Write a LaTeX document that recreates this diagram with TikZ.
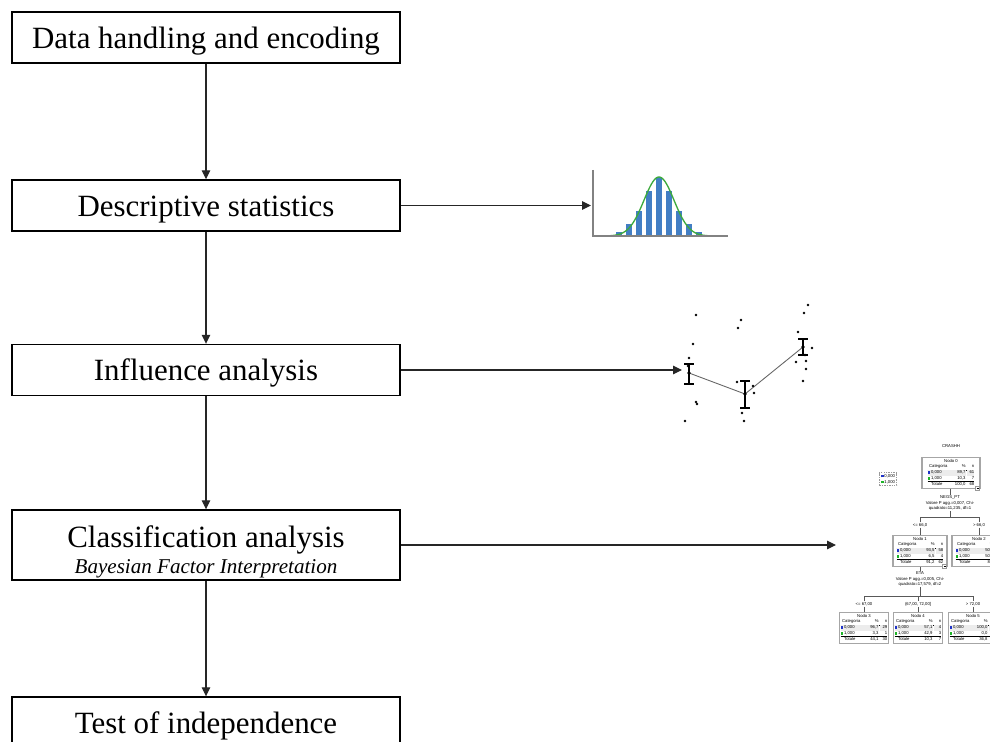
\PassOptionsToPackage{table}{xcolor}
\documentclass[tikz,border=0pt]{standalone}
\usepackage{fontspec}
\setmainfont{Liberation Serif}
\setsansfont{Liberation Sans}
\usepackage{array}
\usetikzlibrary{arrows.meta}

\definecolor{barblue}{RGB}{66,126,196}
\definecolor{curvegreen}{RGB}{60,170,60}
\definecolor{axisgray}{RGB}{130,130,130}
\definecolor{catblue}{RGB}{30,50,200}
\definecolor{catgreen}{RGB}{30,180,40}

% tiny sans font used inside the decision tree
\newcommand\treefont{\sffamily\fontsize{2.4}{3.2}\selectfont\hyphenpenalty=10000\exhyphenpenalty=10000}
\newcommand\catA{\textcolor{catblue}{\rule{1.4pt}{1.4pt}}\hspace{0.5pt}}
\newcommand\catB{\textcolor{catgreen}{\rule{1.4pt}{1.4pt}}\hspace{0.5pt}}
% one tree node: title, %/n of category 0, %/n of category 1, %/n of total
\newcommand\treetable[7]{%
  \setlength\tabcolsep{0pt}\setlength\arrayrulewidth{0.2pt}%
  \begin{tabular}{@{}p{12pt}>{\raggedleft}p{9.5pt}@{\hspace{1pt}}>{\raggedleft\arraybackslash}p{4pt}@{}}
  \multicolumn{3}{@{}c@{}}{#1}\\
  \mbox{\hspace{0.8pt}Categoria} & \% & n\\ \hline
  \rowcolor{gray!15}\mbox{\catA 0,000} & #2 & #3\\
  \mbox{\catB 1,000} & #4 & #5\\ \hline
  \mbox{\hspace{2pt}Totale} & #6 & #7
  \end{tabular}}

\begin{document}
\begin{tikzpicture}[x=0.02cm, y=-0.02cm,
  flowbox/.style={draw, line width=0.8pt, minimum width=7.76cm, minimum height=1.02cm,
    inner sep=0pt, text height=14.5pt, text depth=2.5pt, font=\fontsize{17.6}{21}\selectfont},
  flowarrow/.style={draw=black!85, line width=0.6pt, -{Triangle[length=0.18cm, width=0.17cm]}},
  axisline/.style={draw=axisgray, line width=0.85pt},
  meanline/.style={draw=black!60, line width=0.5pt},
  errbar/.style={draw=black, line width=0.7pt},
  treebox/.style={draw=gray!70, line width=0.6pt, fill=white, inner sep=0.5pt, font=\treefont},
  treetext/.style={inner sep=0.3pt, font=\treefont, align=center},
  treeline/.style={draw=black!65, line width=0.3pt},
  legendbox/.style={draw=gray!80, dashed, dash pattern=on 0.8pt off 0.6pt, line width=0.4pt,
    inner sep=1pt, font=\treefont, align=left},
  collapse/.style={draw=gray!80, line width=0.25pt, fill=white, inner sep=0pt, minimum size=0.08cm}]

\useasboundingbox (0,0) rectangle (990,742);
\fill[white] (0,0) rectangle (990,742);
\clip (0,0) rectangle (990,742);

% ---------------- workflow ----------------
\node[flowbox] (data) at (206,37.5) {Data handling and encoding};
\node[flowbox] (desc) at (206,205.5) {Descriptive statistics};
\node[flowbox] (infl) at (206,370) {Influence analysis};
\node[flowbox, minimum height=1.4cm, text height=, text depth=] (clas) at (206,545) {};
\node[align=center, inner sep=0pt, font=\fontsize{17.6}{21}\selectfont] (clastxt) at (206,552)
  {Classification analysis\\[-6pt]{\itshape\fontsize{12}{14}\selectfont Bayesian Factor Interpretation}};
\node[flowbox] (indep) at (206,722.5) {Test of independence};

\draw[flowarrow] (data) -- (desc);
\draw[flowarrow] (desc) -- (infl);
\draw[flowarrow] (infl) -- (clas);
\draw[flowarrow] (clas) -- (indep);

\coordinate (histin) at (591,205.5);
\coordinate (plotin) at (682,370);
\coordinate (treein) at (836,545);
\draw[flowarrow] (desc) -- (histin);
\draw[flowarrow] (infl) -- (plotin);
\draw[flowarrow] (clas) -- (treein);

% ---------------- histogram with normal curve ----------------
\foreach \dx/\h in {-40/4,-30/12,-20/25,-10/45,0/59,10/45,20/25,30/12,40/4}
  \fill[barblue] (659+\dx-3,236) rectangle (659+\dx+3,236-\h);
\draw[curvegreen, line width=0.75pt] plot[domain=600:718, samples=90, smooth]
  (\x,{236-59*exp(-((\x-659)^2)/450)});
\draw[axisline] (593,170) -- (593,236) -- (728,236);

% ---------------- means with error bars ----------------
\coordinate (m1) at (689,373);
\coordinate (m2) at (745,394);
\coordinate (m3) at (803,347);
\draw[meanline] (m1) -- (m2) -- (m3);
\foreach \x/\ya/\yb in {689/364/384, 745/381/408, 803/339/355} {
  \draw[errbar] (\x,\ya) -- (\x,\yb);
  \draw[errbar] (\x-5,\ya) -- (\x+5,\ya);
  \draw[errbar] (\x-5,\yb) -- (\x+5,\yb);
}
\foreach \p in {m1,m2,m3} \fill (\p) circle (1.8);
\foreach \x/\y in {696/315,693/344,689/358,688/366,696/402,697/404,685/421,
                   741/320,738/328,737/382,753/386,754/393,742/413,744/421,
                   808/305,804/313,798/332,812/348,805/355,806/361,796/362,806/369,803/381}
  \fill (\x,\y) circle (1.4);

% ---------------- classification tree ----------------
\node[treetext] (root) at (951,446) {CRASHH};
\node[legendbox] (legend) at (888,479) {\catA 0,000\\\catB 1,000};

\node[treebox, anchor=north, minimum width=1.16cm] (n0) at (951,457)
  {\treetable{Nodo 0}{89,7}{61}{10,3}{7}{100,0}{68}};
\node[collapse] (c0) at ([shift={(-3,0)}]n0.south east) {};
\draw[line width=0.25pt] ([shift={(-1,0)}]c0.center) -- ([shift={(1,0)}]c0.center);

\node[treetext] (s0) at (950,503) {NEGS\_PT\\Valore P agg.=0,007, Chi-\\quadrato=11,235, df=1};
\coordinate (b0) at (950,517);
\node[treetext] (l1) at (920,525) {<= 66,0};
\node[treetext] (l2) at (979,525) {> 66,0};

\node[treebox, anchor=north, minimum width=1.08cm] (n1) at (920,535)
  {\treetable{Nodo 1}{93,5}{58}{6,5}{4}{91,2}{62}};
\node[collapse] (c1) at ([shift={(-3,0)}]n1.south east) {};
\draw[line width=0.25pt] ([shift={(-1,0)}]c1.center) -- ([shift={(1,0)}]c1.center);
\node[treebox, anchor=north, minimum width=1.08cm] (n2) at (979,535)
  {\treetable{Nodo 2}{50,0}{3}{50,0}{3}{8,8}{6}};

\node[treetext] (s1) at (920,579) {ETA\\Valore P agg.=0,005, Chi-\\quadrato=17,579, df=2};
\coordinate (b1) at (920,596);
\node[treetext] (l3) at (864,604) {<= 67,00};
\node[treetext] (l4) at (918,604) {(67,00, 72,00]};
\node[treetext] (l5) at (973,604) {> 72,00};

\node[treebox, anchor=north] (n3) at (864,612)
  {\treetable{Nodo 3}{96,7}{29}{3,3}{1}{44,1}{30}};
\node[treebox, anchor=north] (n4) at (918,612)
  {\treetable{Nodo 4}{57,1}{4}{42,9}{3}{10,3}{7}};
\node[treebox, anchor=north] (n5) at (973,612)
  {\treetable{Nodo 5}{100,0}{25}{0,0}{0}{36,8}{25}};

% tree connectors
\draw[treeline] (n0.south -| s0) -- (s0.north);
\draw[treeline] (s0.south) -- (b0);
\draw[treeline] (l1.north) -- (l1.north |- b0) -- (l2.north |- b0) -- (l2.north);
\draw[treeline] (l1.south) -- (n1.north);
\draw[treeline] (l2.south) -- (n2.north);
\draw[treeline] (n1.south) -- (s1.north);
\draw[treeline] (s1.south) -- (b1);
\draw[treeline] (l3.north) -- (l3.north |- b1) -- (l5.north |- b1) -- (l5.north);
\draw[treeline] (l4.north) -- (l4.north |- b1);
\draw[treeline] (l3.south) -- (n3.north);
\draw[treeline] (l4.south) -- (n4.north);
\draw[treeline] (l5.south) -- (n5.north);
\end{tikzpicture}
\end{document}
